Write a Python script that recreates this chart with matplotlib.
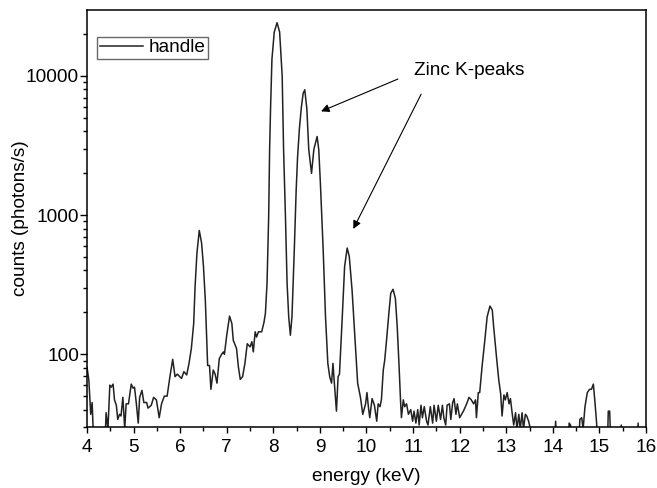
import matplotlib.pyplot as plt
from matplotlib.ticker import FixedLocator, LogLocator, NullFormatter, MultipleLocator

######################################################################################################################
# DATI

ENERGIA = [4.00, 4.04, 4.08, 4.11, 4.14, 4.20, 4.38, 4.41, 4.45, 4.49, 4.52, 4.56, 4.59, 4.63, 4.66, 4.70,
           4.73, 4.77, 4.81, 4.84, 4.89, 4.95, 4.99, 5.02, 5.06, 5.10, 5.13, 5.18, 5.22, 5.28, 5.31, 5.38,
           5.43, 5.49, 5.55, 5.60, 5.66, 5.72, 5.78, 5.84, 5.89, 5.94, 5.99, 6.03, 6.08, 6.14, 6.19, 6.24,
           6.29, 6.32, 6.36, 6.41, 6.46, 6.50, 6.54, 6.57, 6.59, 6.63, 6.66, 6.71, 6.75, 6.79, 6.84, 6.89,
           6.93, 6.95, 7.00, 7.06, 7.11, 7.14, 7.21, 7.25, 7.29, 7.34, 7.39, 7.44, 7.50, 7.54, 7.57, 7.61,
           7.64, 7.68, 7.75, 7.80, 7.83, 7.865, 7.90, 7.92, 7.94, 7.97, 8.02, 8.08, 8.135, 8.19, 8.22, 8.26,
           8.295, 8.33, 8.366, 8.40, 8.45, 8.49, 8.52, 8.56, 8.60, 8.64, 8.675, 8.72, 8.76, 8.82, 8.87, 8.94,
           8.975, 9.01, 9.07, 9.12, 9.17, 9.21, 9.25, 9.28, 9.31, 9.355, 9.39, 9.42, 9.48, 9.53, 9.585, 9.63,
           9.69, 9.75, 9.81, 9.87, 9.92, 9.98, 10.01, 10.04, 10.07, 10.12, 10.17, 10.22, 10.25, 10.29, 10.32, 10.36,
           10.39, 10.43, 10.48, 10.52, 10.57, 10.62, 10.66, 10.70, 10.73, 10.75, 10.79, 10.82, 10.86, 10.90, 10.95, 10.99,
           11.02, 11.06, 11.10, 11.13, 11.17, 11.20, 11.24, 11.29, 11.32, 11.37, 11.42, 11.45, 11.50, 11.54, 11.59, 11.63,
           11.66, 11.70, 11.73, 11.78, 11.81, 11.85, 11.88, 11.92, 11.95, 12.00, 12.08, 12.15, 12.20, 12.25, 12.30, 12.34,
           12.36, 12.40, 12.43, 12.48, 12.54, 12.59, 12.65, 12.70, 12.73, 12.79, 12.84, 12.88, 12.91, 12.95, 12.98, 13.02,
           13.06, 13.09, 13.13, 13.16, 13.20, 13.23, 13.27, 13.30, 13.34, 13.37, 13.41, 13.44, 13.48, 13.52, 13.55, 14.03,
           14.06, 14.09, 14.33, 14.35, 14.38, 14.41, 14.55, 14.58, 14.62, 14.65, 14.69, 14.74, 14.79, 14.83, 14.87, 14.90,
           14.94, 14.97, 15.17, 15.19, 15.22, 15.25, 15.45, 15.47, 15.50, 15.81, 15.83, 15.86, 16.00]

CONTEGGI = [81, 65, 37, 45, 25, 20, 20, 38, 29, 60, 58, 61, 47, 43, 34, 37,
            36, 49, 29, 44, 44, 61, 57, 58, 44, 32, 49, 55, 45, 45, 41, 43,
            49, 47, 35, 44, 50, 50, 69, 92, 69, 72, 69, 67, 75, 71, 86, 110,
            166, 306, 533, 776, 630, 428, 245, 126, 83, 83, 56, 77, 72, 62, 93, 100,
            104, 100, 137, 188, 166, 126, 110, 81, 66, 69, 86, 119, 113, 123, 104, 145,
            133, 145, 145, 170, 197, 325, 980, 2960, 5780, 13200, 20700, 24150, 20700, 10000, 2960, 980,
            325, 186, 137, 186, 563, 1500, 2600, 4200, 5900, 7500, 7960, 5780, 2970, 1995, 2970, 3670,
            2960, 1700, 563, 186, 86, 69, 62, 86, 62, 39, 69, 72, 186, 426, 580, 505,
            290, 133, 62, 49, 37, 44, 53, 42, 35, 48, 43, 33, 44, 42, 47, 77,
            90, 126, 197, 274, 293, 252, 157, 81, 47, 35, 47, 42, 44, 37, 40, 33,
            39, 32, 40, 31, 43, 35, 42, 33, 31, 42, 32, 43, 33, 43, 34, 43,
            35, 31, 43, 44, 34, 45, 48, 37, 44, 35, 39, 44, 49, 47, 44, 47,
            35, 53, 53, 81, 126, 186, 222, 208, 157, 96, 65, 52, 36, 51, 47, 53,
            44, 48, 37, 31, 38, 29, 37, 29, 38, 29, 37, 36, 33, 29, 20, 20,
            33, 20, 20, 32, 31, 20, 20, 34, 35, 29, 42, 53, 56, 56, 61, 47,
            32, 20, 20, 39, 39, 20, 20, 31, 20, 20, 32, 20, 20]

ETICHETTA_SERIE = 'handle'
TESTO_PICCHI = 'Zinc K-peaks'

# frecce: (punta, coda) in coordinate dati
FRECCE = [((8.97, 5470), (10.73, 9680)),
          ((9.69, 764), (11.20, 7710))]

X_TICKS = list(range(4, 17))
Y_TICKS = [100, 1000, 10000]

######################################################################################################################
# GRAFICO

plt.rcParams['font.family'] = ['Liberation Sans', 'DejaVu Sans']
FS = 13.7

fig = plt.figure(figsize=(6.57, 4.88), dpi=100)
ax = fig.add_axes([87 / 657, 1 - 427 / 488, 559 / 657, 417 / 488])

ax.plot(ENERGIA, CONTEGGI, color='#222222', lw=1.1, label=ETICHETTA_SERIE)

ax.set_yscale('log')
ax.set_xlim(4, 16)
ax.set_ylim(30, 29800)

# Tick asse x
ax.xaxis.set_major_locator(FixedLocator(X_TICKS))
ax.xaxis.set_minor_locator(MultipleLocator(0.5))
ax.set_xticklabels([str(t) for t in X_TICKS])

# Tick asse y
ax.yaxis.set_major_locator(FixedLocator(Y_TICKS))
ax.yaxis.set_minor_locator(LogLocator(base=10, subs=range(2, 10)))
ax.yaxis.set_minor_formatter(NullFormatter())
ax.set_yticklabels([str(t) for t in Y_TICKS])

ax.tick_params(which='both', direction='out', top=False, right=False, width=1, labelsize=FS)
ax.tick_params(axis='x', which='major', length=4.5, pad=4)
ax.tick_params(axis='x', which='minor', length=3)
ax.tick_params(axis='y', which='major', length=5, pad=0.8)
ax.tick_params(axis='y', which='minor', length=3)

for sp in ax.spines.values():
    sp.set_linewidth(1.1)

# Titoli assi
ax.set_xlabel('energy (keV)', fontsize=FS)
ax.set_ylabel('counts (photons/s)', fontsize=FS)
ax.xaxis.set_label_coords(0.5, -0.098)
ax.yaxis.set_label_coords(-0.103, 0.5)

# Legenda
leg = ax.legend(loc='upper left', bbox_to_anchor=(0.0184, 0.936), borderaxespad=0, fontsize=FS,
                fancybox=False, frameon=True, handlelength=2.3, handletextpad=0.3, borderpad=0.12)
leg.get_frame().set_edgecolor('#444444')
leg.get_frame().set_linewidth(1.0)

# Annotazione picchi dello zinco
ax.text(12.20, 11000, TESTO_PICCHI, fontsize=FS, ha='center', va='center')
for punta, coda in FRECCE:
    ax.annotate('', xy=punta, xytext=coda,
                arrowprops=dict(arrowstyle='-|>', lw=0.8, color='black', mutation_scale=12))

fig.savefig('out.png', dpi=100)
